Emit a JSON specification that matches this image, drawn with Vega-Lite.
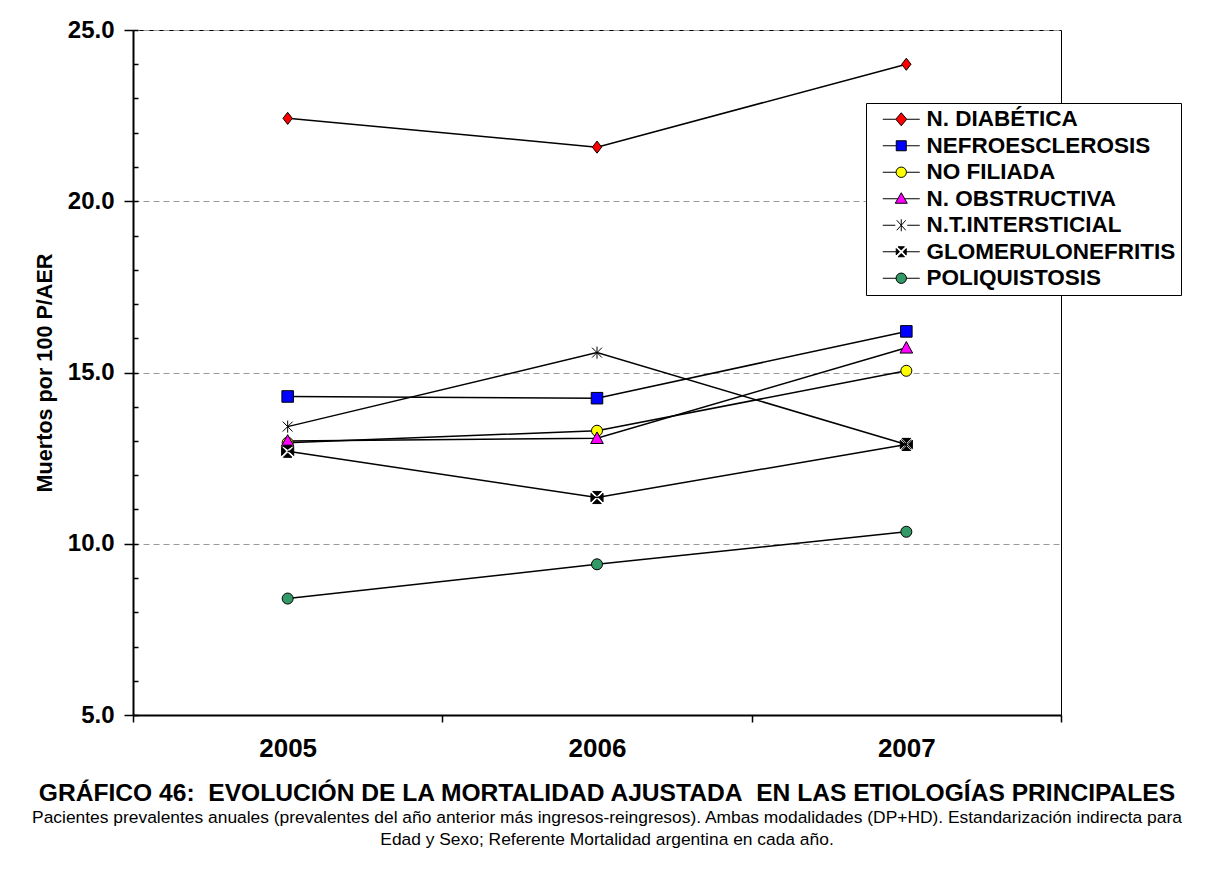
{
  "$schema": "https://vega.github.io/schema/vega-lite/v6.json",
  "width": 928,
  "height": 685,
  "autosize": {"type": "none"},
  "padding": {"left": 133, "top": 30, "right": 148, "bottom": 165},
  "background": "white",
  "config": {
    "view": {"stroke": "black", "strokeWidth": 1},
    "font": "Liberation Sans"
  },
  "title": {
    "text": "GRÁFICO 46:\u00a0 EVOLUCIÓN DE LA MORTALIDAD AJUSTADA\u00a0 EN LAS ETIOLOGÍAS PRINCIPALES",
    "subtitle": ["Pacientes prevalentes anuales (prevalentes del año anterior más ingresos-reingresos). Ambas modalidades (DP+HD). Estandarización indirecta para", "Edad y Sexo; Referente Mortalidad argentina en cada año."],
    "orient": "bottom",
    "anchor": "middle",
    "frame": "group",
    "dx": 10,
    "offset": 21,
    "font": "Liberation Sans",
    "fontSize": 24.6,
    "fontWeight": "bold",
    "color": "black",
    "subtitleFont": "Liberation Sans",
    "subtitleFontSize": 17.4,
    "subtitleColor": "black",
    "subtitleLineHeight": 22,
    "subtitlePadding": 2
  },
  "data": {
    "values": [
      {"year": "2005", "serie": "N. DIABÉTICA", "value": 22.42},
      {"year": "2006", "serie": "N. DIABÉTICA", "value": 21.58},
      {"year": "2007", "serie": "N. DIABÉTICA", "value": 24.0},
      {"year": "2005", "serie": "NEFROESCLEROSIS", "value": 14.3},
      {"year": "2006", "serie": "NEFROESCLEROSIS", "value": 14.25},
      {"year": "2007", "serie": "NEFROESCLEROSIS", "value": 16.2},
      {"year": "2005", "serie": "NO FILIADA", "value": 12.95},
      {"year": "2006", "serie": "NO FILIADA", "value": 13.3},
      {"year": "2007", "serie": "NO FILIADA", "value": 15.05},
      {"year": "2005", "serie": "N. OBSTRUCTIVA", "value": 13.0},
      {"year": "2006", "serie": "N. OBSTRUCTIVA", "value": 13.08},
      {"year": "2007", "serie": "N. OBSTRUCTIVA", "value": 15.72},
      {"year": "2005", "serie": "N.T.INTERSTICIAL", "value": 13.42},
      {"year": "2006", "serie": "N.T.INTERSTICIAL", "value": 15.58},
      {"year": "2007", "serie": "N.T.INTERSTICIAL", "value": 12.9},
      {"year": "2005", "serie": "GLOMERULONEFRITIS", "value": 12.7},
      {"year": "2006", "serie": "GLOMERULONEFRITIS", "value": 11.35},
      {"year": "2007", "serie": "GLOMERULONEFRITIS", "value": 12.9},
      {"year": "2005", "serie": "POLIQUISTOSIS", "value": 8.4},
      {"year": "2006", "serie": "POLIQUISTOSIS", "value": 9.4},
      {"year": "2007", "serie": "POLIQUISTOSIS", "value": 10.35}
    ]
  },
  "layer": [
    {
      "mark": {"type": "line", "color": "black", "strokeWidth": 1.5},
      "encoding": {
        "x": {
          "field": "year", "type": "nominal", "bandPosition": 0.5,
          "scale": {"type": "band", "paddingInner": 0, "paddingOuter": 0},
          "axis": {
            "title": null, "labelAngle": 0, "tickBand": "extent", "tickSize": 7, "tickColor": "black", "tickWidth": 1.5,
            "domainColor": "black", "domainWidth": 2, "grid": false,
            "labelFont": "Liberation Sans", "labelFontSize": 26, "labelFontWeight": "bold", "labelColor": "black", "labelPadding": 13
          }
        },
        "y": {
          "field": "value", "type": "quantitative",
          "scale": {"domain": [5, 25], "nice": false, "zero": false},
          "axis": {
            "orient": "left", "title": null, "labels": false, "domain": false, "grid": false,
            "values": [5, 6, 7, 8, 9, 10, 11, 12, 13, 14, 15, 16, 17, 18, 19, 20, 21, 22, 23, 24, 25],
            "offset": -5, "tickSize": 5, "tickColor": "black", "tickWidth": 1.5
          }
        },
        "detail": {"field": "serie"}
      }
    },
    {
      "mark": {"type": "point", "filled": true, "opacity": 1, "stroke": "black", "strokeWidth": 1, "size": 121},
      "encoding": {
        "x": {"field": "year", "type": "nominal", "bandPosition": 0.5},
        "y": {
          "field": "value", "type": "quantitative",
          "axis": {
            "orient": "left", "title": "Muertos por 100 P/AER", "values": [5, 10, 15, 20, 25], "format": ".1f",
            "labelFont": "Liberation Sans", "labelFontSize": 24, "labelFontWeight": "bold", "labelColor": "black", "labelPadding": 10,
            "tickSize": 9, "tickColor": "black", "tickWidth": 1.5,
            "domainColor": "black", "domainWidth": 2,
            "grid": true, "gridColor": "#999999", "gridDash": [6, 4], "gridWidth": 1,
            "titleFont": "Liberation Sans", "titleFontSize": 21.6, "titleFontWeight": "bold", "titleColor": "black", "titlePadding": 11
          }
        },
        "shape": {
          "field": "serie", "type": "nominal", "legend": null,
          "scale": {
            "domain": ["N. DIABÉTICA", "NEFROESCLEROSIS", "NO FILIADA", "N. OBSTRUCTIVA", "N.T.INTERSTICIAL", "GLOMERULONEFRITIS", "POLIQUISTOSIS"],
            "range": [
              "M0,-1.1L0.85,0L0,1.1L-0.85,0Z",
              "M-1.05,-1.05L1.05,-1.05L1.05,1.05L-1.05,1.05Z",
              "circle",
              "M0,-1.15L1.15,0.95L-1.15,0.95Z",
              "M-0.9,-0.9L0.9,0.9M-0.9,0.9L0.9,-0.9M0,-1.1L0,1.1",
              "M-0.78,-1.1L0.78,-1.1L0,-0.32ZM1.1,-0.78L1.1,0.78L0.32,0ZM0.78,1.1L-0.78,1.1L0,0.32ZM-1.1,0.78L-1.1,-0.78L-0.32,0Z",
              "circle"
            ]
          }
        },
        "fill": {
          "field": "serie", "type": "nominal", "legend": null,
          "scale": {
            "domain": ["N. DIABÉTICA", "NEFROESCLEROSIS", "NO FILIADA", "N. OBSTRUCTIVA", "N.T.INTERSTICIAL", "GLOMERULONEFRITIS", "POLIQUISTOSIS"],
            "range": ["#ff0000", "#0000ff", "#ffff00", "#ff00ff", "#000000", "#000000", "#339966"]
          }
        }
      }
    },
    {
      "transform": [{"filter": "datum.value < 0"}],
      "mark": {"type": "point", "filled": true, "opacity": 1, "stroke": "black", "strokeWidth": 1, "size": 400},
      "encoding": {
        "x": {"field": "year", "type": "nominal", "bandPosition": 0.5},
        "y": {"field": "value", "type": "quantitative", "axis": null},
        "shape": {
          "field": "serie", "type": "nominal",
          "scale": {
            "domain": ["N. DIABÉTICA", "NEFROESCLEROSIS", "NO FILIADA", "N. OBSTRUCTIVA", "N.T.INTERSTICIAL", "GLOMERULONEFRITIS", "POLIQUISTOSIS"],
            "range": [
              "M0.05,0L1.35,0M2.45,0L3.75,0M1.9,-0.65L2.45,0L1.9,0.65L1.35,0Z",
              "M0.05,0L1.4,0M2.4,0L3.75,0M1.4,-0.5L2.4,-0.5L2.4,0.5L1.4,0.5Z",
              "M0.05,0L1.38,0M2.42,0L3.75,0M2.42,0A0.52,0.52,0,1,1,1.38,0A0.52,0.52,0,1,1,2.42,0Z",
              "M0.05,0L1.56,0M2.24,0L3.75,0M1.9,-0.6L2.5,0.45L1.3,0.45Z",
              "M0.05,0L1.3,0M2.5,0L3.75,0M1.45,-0.5L2.35,0.5M1.45,0.5L2.35,-0.5M1.9,-0.6L1.9,0.6",
              "M0.05,0L1.4,0M2.4,0L3.75,0M1.58,-0.5L2.22,-0.5L1.9,-0.18ZM2.4,-0.32L2.4,0.32L2.08,0ZM2.22,0.5L1.58,0.5L1.9,0.18ZM1.4,0.32L1.4,-0.32L1.72,0Z",
              "M0.05,0L1.38,0M2.42,0L3.75,0M2.42,0A0.52,0.52,0,1,1,1.38,0A0.52,0.52,0,1,1,2.42,0Z"
            ]
          },
          "legend": {
            "orient": "none", "legendX": 733, "legendY": 73, "title": null,
            "padding": 5, "strokeColor": "black", "fillColor": "white",
            "labelFont": "Liberation Sans", "labelFontSize": 22.5, "labelFontWeight": "bold", "labelColor": "black",
            "labelOffset": 33, "labelLimit": 400, "rowPadding": 3.5,
            "symbolSize": 400, "symbolStrokeColor": "black", "symbolStrokeWidth": 1, "symbolOpacity": 1,
            "encode": {"symbols": {"update": {"stroke": {"value": "black"}, "strokeWidth": {"value": 1}, "opacity": {"value": 1}}}}
          }
        },
        "fill": {
          "field": "serie", "type": "nominal",
          "scale": {
            "domain": ["N. DIABÉTICA", "NEFROESCLEROSIS", "NO FILIADA", "N. OBSTRUCTIVA", "N.T.INTERSTICIAL", "GLOMERULONEFRITIS", "POLIQUISTOSIS"],
            "range": ["#ff0000", "#0000ff", "#ffff00", "#ff00ff", "#000000", "#000000", "#339966"]
          },
          "legend": {
            "orient": "none", "legendX": 733, "legendY": 73, "title": null,
            "padding": 5, "strokeColor": "black", "fillColor": "white",
            "labelFont": "Liberation Sans", "labelFontSize": 22.5, "labelFontWeight": "bold", "labelColor": "black",
            "labelOffset": 33, "labelLimit": 400, "rowPadding": 3.5,
            "symbolSize": 400, "symbolStrokeColor": "black", "symbolStrokeWidth": 1, "symbolOpacity": 1,
            "encode": {"symbols": {"update": {"stroke": {"value": "black"}, "strokeWidth": {"value": 1}, "opacity": {"value": 1}}}}
          }
        }
      }
    }
  ],
  "resolve": {
    "scale": {"shape": "independent", "fill": "independent"},
    "axis": {"y": "independent"}
  }
}
